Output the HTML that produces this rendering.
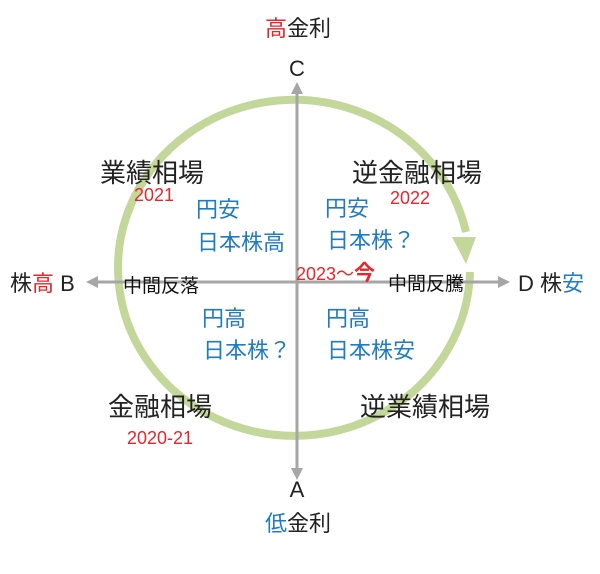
<!DOCTYPE html>
<html><head><meta charset="utf-8"><style>
html,body{margin:0;padding:0;background:#fff;}
svg{display:block;}
text{font-family:"Liberation Sans","Noto Sans CJK JP",sans-serif;}
</style></head><body>
<svg width="600" height="574" viewBox="0 0 600 574" xmlns="http://www.w3.org/2000/svg">
<path d="M 466 232 A 176 168 0 1 0 470 272" fill="none" stroke="#c4d79b" stroke-width="8"/>
<polygon points="452,237 476,237 466,264" fill="#c4d79b"/>
<g stroke="#a6a6a6" stroke-width="3">
<line x1="297" y1="92" x2="297" y2="470"/>
<line x1="95" y1="282" x2="502" y2="282"/>
</g>
<g fill="#a6a6a6">
<polygon points="297,82 291,94 303,94"/>
<polygon points="297,480 291,468 303,468"/>
<polygon points="86,282 98,276 98,288"/>
<polygon points="510,282 498,276 498,288"/>
</g>
<g font-size="22" fill="#222" text-anchor="middle">
<text x="298" y="36"><tspan fill="#e8262a">高</tspan>金利</text>
<text x="297" y="76">C</text>
<text x="297" y="497">A</text>
<text x="298" y="531"><tspan fill="#1f7bc4">低</tspan>金利</text>
</g>
<text x="10" y="291" font-size="22" fill="#222">株<tspan fill="#e8262a">高</tspan> B</text>
<text x="518" y="291" font-size="22" fill="#222">D 株<tspan fill="#1f7bc4">安</tspan></text>
<g font-size="19" fill="#111">
<text x="123" y="292">中間反落</text>
<text x="388" y="290">中間反騰</text>
</g>
<text x="296" y="280" font-size="18" fill="#e8262a">2023～<tspan font-size="21" font-weight="bold">今</tspan></text>
<g font-size="26" fill="#222">
<text x="100" y="182">業績相場</text>
<text x="352" y="182">逆金融相場</text>
<text x="108" y="416">金融相場</text>
<text x="360" y="416">逆業績相場</text>
</g>
<g font-size="18" fill="#e8262a">
<text x="134" y="201">2021</text>
<text x="390" y="204">2022</text>
<text x="127" y="444">2020-21</text>
</g>
<g font-size="22" fill="#1f7bc4">
<text x="196" y="217">円安</text>
<text x="197" y="250">日本株高</text>
<text x="325" y="216">円安</text>
<text x="327" y="248">日本株？</text>
<text x="202" y="326">円高</text>
<text x="203" y="358">日本株？</text>
<text x="326" y="326">円高</text>
<text x="327" y="358">日本株安</text>
</g>
</svg>
</body></html>
